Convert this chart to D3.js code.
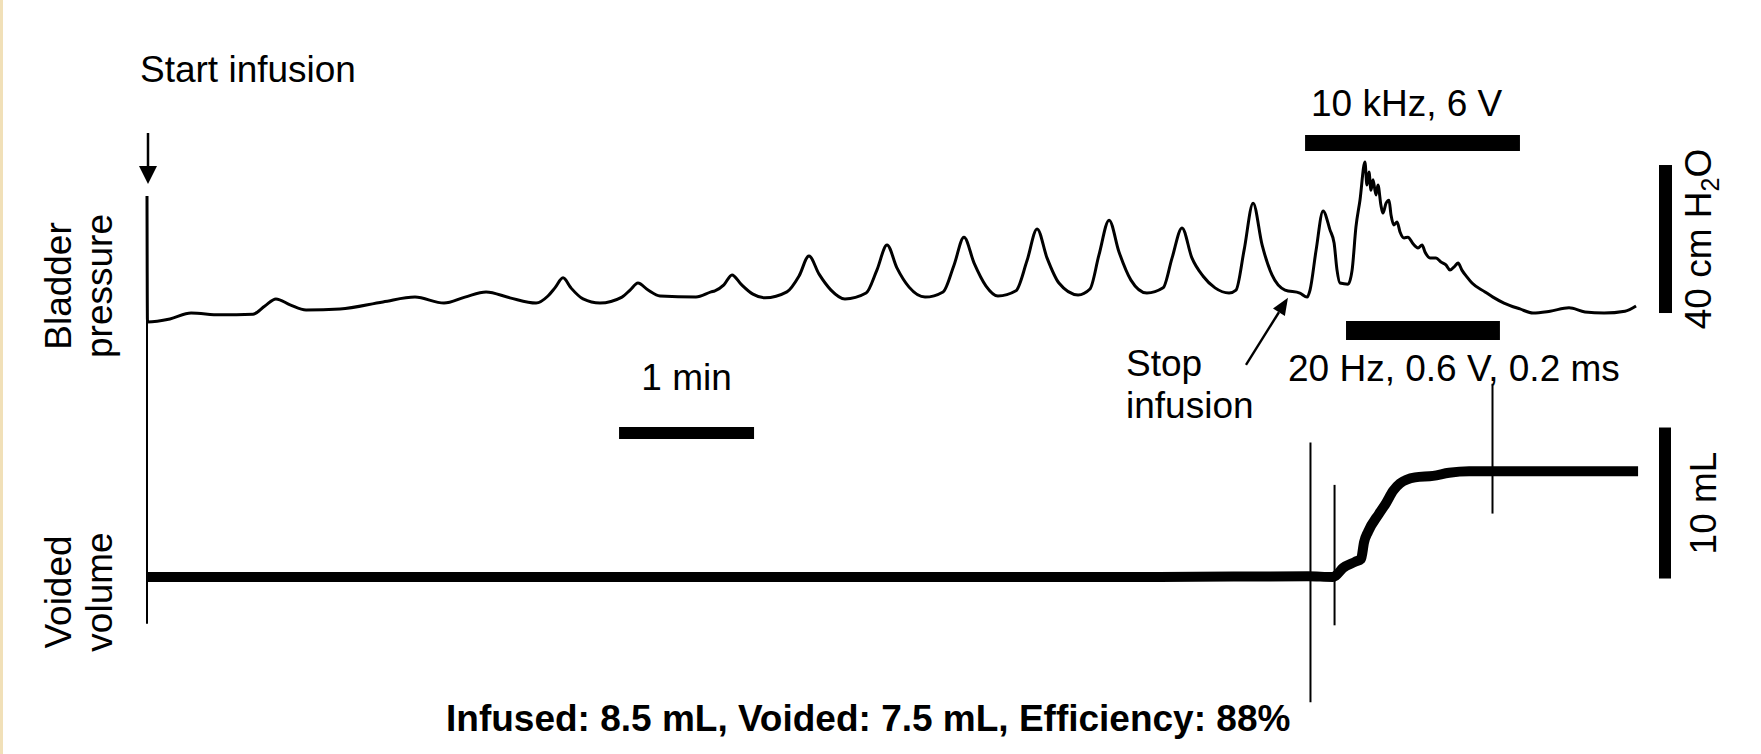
<!DOCTYPE html>
<html>
<head>
<meta charset="utf-8">
<script src="https://cdn.jsdelivr.net/npm/d3@7"></script>
<style>
  html, body { margin: 0; padding: 0; background: #ffffff; }
  svg { display: block; }
  text { font-family: "Liberation Sans", Arial, sans-serif; fill: #000; }
</style>
</head>
<body>
<svg id="chart" width="1761" height="754"></svg>
<script>
// ---------------- DATA (seconds, cm H2O, mL) ----------------
// Bladder pressure trace (time s, pressure cm H2O)
const pressureTime = [0, 0.2, 10.2, 19.6, 32.4, 47.1, 52.4, 57.3, 63.6, 70.7, 85.8, 104.9, 119.1, 132.0, 141.3, 150.7, 161.3, 172.9,
  178.2, 181.3, 184.9, 188.4, 193.8, 201.3, 211.1, 214.7, 218.2, 222.7, 228.0, 244.0, 250.7, 252.4, 256.4, 260.0, 264.0, 269.3, 274.7,
  284.4, 289.8, 294.2, 298.7, 304.0, 310.2, 319.6, 324.4, 328.9, 333.3, 338.7, 345.8, 353.8, 358.7, 363.1, 367.6, 372.9, 378.2,
  386.2, 391.1, 395.6, 400.0, 405.3, 413.8, 419.1, 423.1, 427.6, 432.0, 437.3, 444.4, 451.6, 455.6, 460.0, 464.4, 469.3, 474.7,
  480.9, 484.0, 487.6, 491.6, 495.6, 500.0, 505.8, 512.4, 515.6, 516.9, 519.6, 522.7, 525.8, 527.6, 528.9, 530.2, 533.8, 535.6,
  537.3, 539.1, 541.3, 542.2, 543.1, 544.0, 544.9, 546.2, 547.1, 548.4, 549.3, 550.7, 552.0, 552.9, 554.2, 555.6, 556.9, 558.7,
  560.4, 562.7, 564.9, 566.7, 568.0, 570.2, 572.9, 575.1, 577.3, 579.1, 581.3, 582.7, 584.4, 586.7, 588.9, 594.7, 598.2, 603.1,
  610.2, 616.0, 623.6, 632.0, 639.1, 647.6, 656.9, 661.8];
const pressureValue = [37.0, 3.0, 3.8, 5.4, 4.9, 5.1, 7.3, 9.2, 7.6, 6.2, 6.5, 8.4, 9.7, 8.1, 9.7, 11.1, 9.5, 8.1,
  10.0, 12.2, 14.9, 12.2, 9.2, 8.1, 9.7, 11.6, 13.5, 11.6, 10.0, 9.7, 11.1, 11.4, 13.0, 15.7, 13.2, 10.5, 9.5,
  11.1, 15.4, 20.8, 15.9, 11.6, 9.2, 10.8, 17.0, 23.8, 17.6, 12.4, 9.7, 11.1, 18.4, 25.9, 18.9, 12.7, 10.0,
  11.4, 19.5, 28.1, 20.3, 13.5, 10.3, 11.9, 21.1, 30.5, 21.9, 14.3, 10.8, 12.2, 20.3, 28.4, 20.3, 15.4, 12.2,
  10.8, 11.6, 22.4, 35.1, 23.8, 15.7, 11.6, 10.8, 9.7, 11.6, 22.4, 33.0, 27.8, 24.3, 17.0, 13.5, 13.2, 17.0,
  28.6, 35.9, 46.2, 40.0, 43.5, 38.6, 41.4, 37.3, 40.0, 34.6, 32.4, 35.1, 35.9, 31.9, 29.2, 30.0, 27.3, 25.7,
  25.9, 24.1, 23.0, 23.8, 21.9, 20.3, 20.3, 19.2, 18.4, 17.0, 18.1, 18.9, 17.0, 15.1, 13.5, 11.1, 9.7, 8.1,
  6.5, 5.4, 5.9, 6.8, 5.7, 5.4, 5.9, 7.3];

// Voided volume trace (time s, volume mL), drawn as the noise band
const volumeTime = [0.4, 60, 150, 250, 350, 450, 516.0, 527.0, 528.4, 531.6, 536.9, 539.6, 540.9, 542.7, 547.6, 550.7, 553.8,
  556.9, 563.6, 571.6, 578.7, 587.6, 597.3, 627.6, 662.7];
const volumeValue = [0, 0, 0, 0, 0, 0, 0.05, 0, 0.1, 0.6, 1.0, 1.2, 2.3, 3.0, 4.2, 4.9, 5.7,
  6.2, 6.6, 6.7, 6.9, 7.0, 7.0, 7.0, 7.0];
// Artefact spikes on the volume trace
const spikeTime = [0, 517.1, 527.8, 598.0];
const spikeTop = [17.0, 8.9, 6.1, 12.8];
const spikeBottom = [-3.1, -8.3, -3.2, 4.2];

// Stimulation periods
const stimLabels = ["10 kHz, 6 V", "20 Hz, 0.6 V, 0.2 ms"];
const stimStart = [514.7, 532.9];
const stimEnd = [610.2, 601.3];

// Scale bars
const timeBar = { start: 209.8, length: 60, label: "1 min" };
const pressureBar = { from: 5.4, length: 40 };
const volumeBar = { from: -0.1, length: 10 };

const startInfusionTime = 0;
const stopInfusion = { time: 507.1, pressure: 9.5 };

const summaryText = "Infused: 8.5 mL, Voided: 7.5 mL, Efficiency: 88%";

// ---------------- DRAWING ----------------
const svg = d3.select("#chart");
const FS = 37;

// left beige edge
svg.append("rect").attr("x", 0).attr("y", 0).attr("width", 3).attr("height", 754).attr("fill", "#F1E0B8");

const x = d3.scaleLinear().domain([0, 60]).range([147, 282]);     // 2.25 px per second
const yP = d3.scaleLinear().domain([0, 40]).range([333, 185]);    // 3.7 px per cm H2O
const yV = d3.scaleLinear().domain([0, 10]).range([577, 426]);    // 15.1 px per mL

// Pressure trace
const pData = pressureTime.map((t, i) => [t, pressureValue[i]]);
svg.append("path")
  .datum(pData)
  .attr("fill", "none")
  .attr("stroke", "#000")
  .attr("stroke-width", 3)
  .attr("stroke-linejoin", "round")
  .attr("d", d3.line().x(d => x(d[0])).y(d => yP(d[1])).curve(d3.curveMonotoneX));

// Volume trace (noisy band)
const vData = volumeTime.map((t, i) => [t, volumeValue[i]]);
svg.append("path")
  .datum(vData)
  .attr("fill", "none")
  .attr("stroke", "#000")
  .attr("stroke-width", 10)
  .attr("stroke-linejoin", "round")
  .attr("d", d3.line().x(d => x(d[0])).y(d => yV(d[1])).curve(d3.curveMonotoneX));

// Volume spikes
svg.selectAll("line.spike")
  .data(spikeTime)
  .join("line")
  .attr("class", "spike")
  .attr("x1", d => x(d)).attr("x2", d => x(d))
  .attr("y1", (d, i) => yV(spikeTop[i]))
  .attr("y2", (d, i) => yV(spikeBottom[i]))
  .attr("stroke", "#000")
  .attr("stroke-width", 2);

// Start infusion arrow + text
const sx = x(startInfusionTime) + 1;
svg.append("line").attr("x1", sx).attr("x2", sx).attr("y1", 133).attr("y2", 170)
  .attr("stroke", "#000").attr("stroke-width", 2.5);
svg.append("path").attr("d", `M${sx - 9},166 L${sx + 9},166 L${sx},184 Z`).attr("fill", "#000");
svg.append("text").attr("x", 140).attr("y", 82).attr("font-size", FS).text("Start infusion");

// Stop infusion arrow + text
const tipX = x(stopInfusion.time), tipY = yP(stopInfusion.pressure);
const tailX = tipX - 42, tailY = tipY + 67;
const ang = Math.atan2(tipY - tailY, tipX - tailX);
const hl = 17, hw = 7;
const bx = tipX - hl * Math.cos(ang), by = tipY - hl * Math.sin(ang);
svg.append("line").attr("x1", tailX).attr("y1", tailY).attr("x2", bx).attr("y2", by)
  .attr("stroke", "#000").attr("stroke-width", 2.4);
svg.append("path")
  .attr("d", `M${tipX},${tipY} L${bx + hw * Math.sin(ang)},${by - hw * Math.cos(ang)} L${bx - hw * Math.sin(ang)},${by + hw * Math.cos(ang)} Z`)
  .attr("fill", "#000");
svg.append("text").attr("x", 1126).attr("y", 376).attr("font-size", FS).text("Stop");
svg.append("text").attr("x", 1126).attr("y", 418).attr("font-size", FS).text("infusion");

// Stimulation bars
const stimY = [135, 321];
const stimH = [16, 19];
svg.selectAll("rect.stim")
  .data(stimLabels)
  .join("rect")
  .attr("class", "stim")
  .attr("x", (d, i) => x(stimStart[i]))
  .attr("width", (d, i) => x(stimEnd[i]) - x(stimStart[i]))
  .attr("y", (d, i) => stimY[i])
  .attr("height", (d, i) => stimH[i])
  .attr("fill", "#000");
svg.append("text").attr("x", 1311).attr("y", 116).attr("font-size", FS).text(stimLabels[0]);
svg.append("text").attr("x", 1288).attr("y", 381).attr("font-size", FS).text(stimLabels[1]);

// Time scale bar
svg.append("rect")
  .attr("x", x(timeBar.start)).attr("width", x(timeBar.start + timeBar.length) - x(timeBar.start))
  .attr("y", 427).attr("height", 12).attr("fill", "#000");
svg.append("text").attr("x", (x(timeBar.start) + x(timeBar.start + timeBar.length)) / 2).attr("y", 390)
  .attr("text-anchor", "middle").attr("font-size", FS).text(timeBar.label);

// Pressure scale bar
svg.append("rect").attr("x", 1659).attr("width", 13)
  .attr("y", yP(pressureBar.from + pressureBar.length))
  .attr("height", yP(pressureBar.from) - yP(pressureBar.from + pressureBar.length))
  .attr("fill", "#000");
const pcy = (yP(pressureBar.from) + yP(pressureBar.from + pressureBar.length)) / 2;
const pt = svg.append("text").attr("transform", `translate(1711,${pcy}) rotate(-90)`)
  .attr("text-anchor", "middle").attr("font-size", FS);
pt.append("tspan").text("40 cm H");
pt.append("tspan").attr("font-size", 25).attr("dy", 8).text("2");
pt.append("tspan").attr("dy", -8).text("O");

// Volume scale bar
svg.append("rect").attr("x", 1659).attr("width", 12)
  .attr("y", yV(volumeBar.from + volumeBar.length))
  .attr("height", yV(volumeBar.from) - yV(volumeBar.from + volumeBar.length))
  .attr("fill", "#000");
const vcy = (yV(volumeBar.from) + yV(volumeBar.from + volumeBar.length)) / 2;
svg.append("text").attr("transform", `translate(1716,${vcy}) rotate(-90)`)
  .attr("text-anchor", "middle").attr("font-size", FS).text("10 mL");

// Row labels
function rowLabel(lines, cy) {
  const bases = [71, 112];
  lines.forEach((s, i) => {
    svg.append("text").attr("transform", `translate(${bases[i]},${cy}) rotate(-90)`)
      .attr("text-anchor", "middle").attr("font-size", FS).text(s);
  });
}
rowLabel(["Bladder", "pressure"], 286);
rowLabel(["Voided", "volume"], 592);

// Summary
svg.append("text").attr("x", 446).attr("y", 731).attr("font-size", FS).attr("font-weight", "bold").text(summaryText);
</script>
</body>
</html>
